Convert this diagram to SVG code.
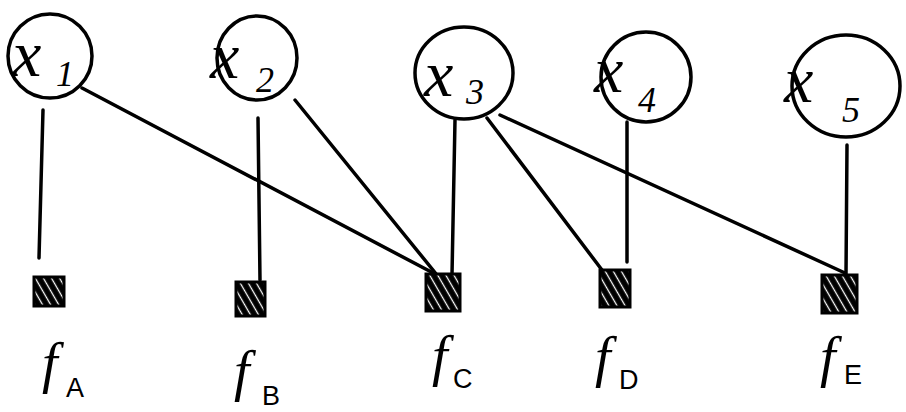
<svg xmlns="http://www.w3.org/2000/svg" width="906" height="412" viewBox="0 0 906 412">
<style>
.var{fill:none;stroke:#000;stroke-width:3.5}
.edge{fill:none;stroke:#000;stroke-width:3.5;stroke-linecap:round}
.fac{fill:url(#hatch);stroke:#000;stroke-width:3}
.lbl{font-family:"Liberation Serif",serif;font-style:italic;fill:#000}
.big{font-size:66px}
.sub{font-size:36px}
.flbl{font-family:"Liberation Serif",serif;font-style:italic;fill:#000;font-size:56px}
.fsub{font-family:"Liberation Sans",sans-serif;fill:#000;font-size:27px}
</style>
<defs>
<pattern id="hatch" patternUnits="userSpaceOnUse" width="7" height="7" patternTransform="rotate(60)">
<rect width="7" height="7" fill="#000"/>
<line x1="0" y1="3.5" x2="7" y2="3.5" stroke="#fff" stroke-width="1.3"/>
</pattern>
</defs>
<g id="connectors">
<path class="edge" d="M43,110 L39,258"/>
<path class="edge" d="M258,118 L260,280"/>
<path class="edge" d="M455,120 L452,275"/>
<path class="edge" d="M627,122 L627,262"/>
<path class="edge" d="M847,145 L846,275"/>
<path class="edge" d="M82,88 L437,275"/>
<path class="edge" d="M295,100 L437,275"/>
<path class="edge" d="M487,118 L602,270"/>
<path class="edge" d="M500,115 L845,273"/>
</g>
<g id="x1">
<ellipse class="var" cx="50" cy="56" rx="42" ry="42"/>
<text class="lbl big" x="12" y="76">x</text>
<text class="lbl sub" x="56" y="86">1</text>
</g>
<g id="x2">
<ellipse class="var" cx="257" cy="58" rx="40" ry="42"/>
<text class="lbl big" x="210" y="78">x</text>
<text class="lbl sub" x="256" y="92">2</text>
</g>
<g id="x3">
<ellipse class="var" cx="464" cy="73" rx="49" ry="46"/>
<text class="lbl big" x="424" y="96">x</text>
<text class="lbl sub" x="466" y="104">3</text>
</g>
<g id="x4">
<ellipse class="var" cx="646" cy="77" rx="45" ry="45"/>
<text class="lbl big" x="594" y="92">x</text>
<text class="lbl sub" x="638" y="112">4</text>
</g>
<g id="x5">
<ellipse class="var" cx="846" cy="86" rx="54" ry="51"/>
<text class="lbl big" x="784" y="102">x</text>
<text class="lbl sub" x="842" y="122">5</text>
</g>
<g id="fA">
<rect class="fac" x="34" y="277" width="30" height="29"/>
<text class="flbl" x="42" y="382">f</text>
<text class="fsub" x="66" y="397">A</text>
</g>
<g id="fB">
<rect class="fac" x="236" y="282" width="29" height="34"/>
<text class="flbl" x="234" y="390">f</text>
<text class="fsub" x="262" y="405">B</text>
</g>
<g id="fC">
<rect class="fac" x="426" y="274" width="34" height="37"/>
<text class="flbl" x="432" y="375">f</text>
<text class="fsub" x="453" y="388">C</text>
</g>
<g id="fD">
<rect class="fac" x="600" y="270" width="30" height="37"/>
<text class="flbl" x="595" y="376">f</text>
<text class="fsub" x="619" y="389">D</text>
</g>
<g id="fE">
<rect class="fac" x="822" y="275" width="35" height="38"/>
<text class="flbl" x="820" y="376">f</text>
<text class="fsub" x="844" y="384">E</text>
</g>
</svg>
